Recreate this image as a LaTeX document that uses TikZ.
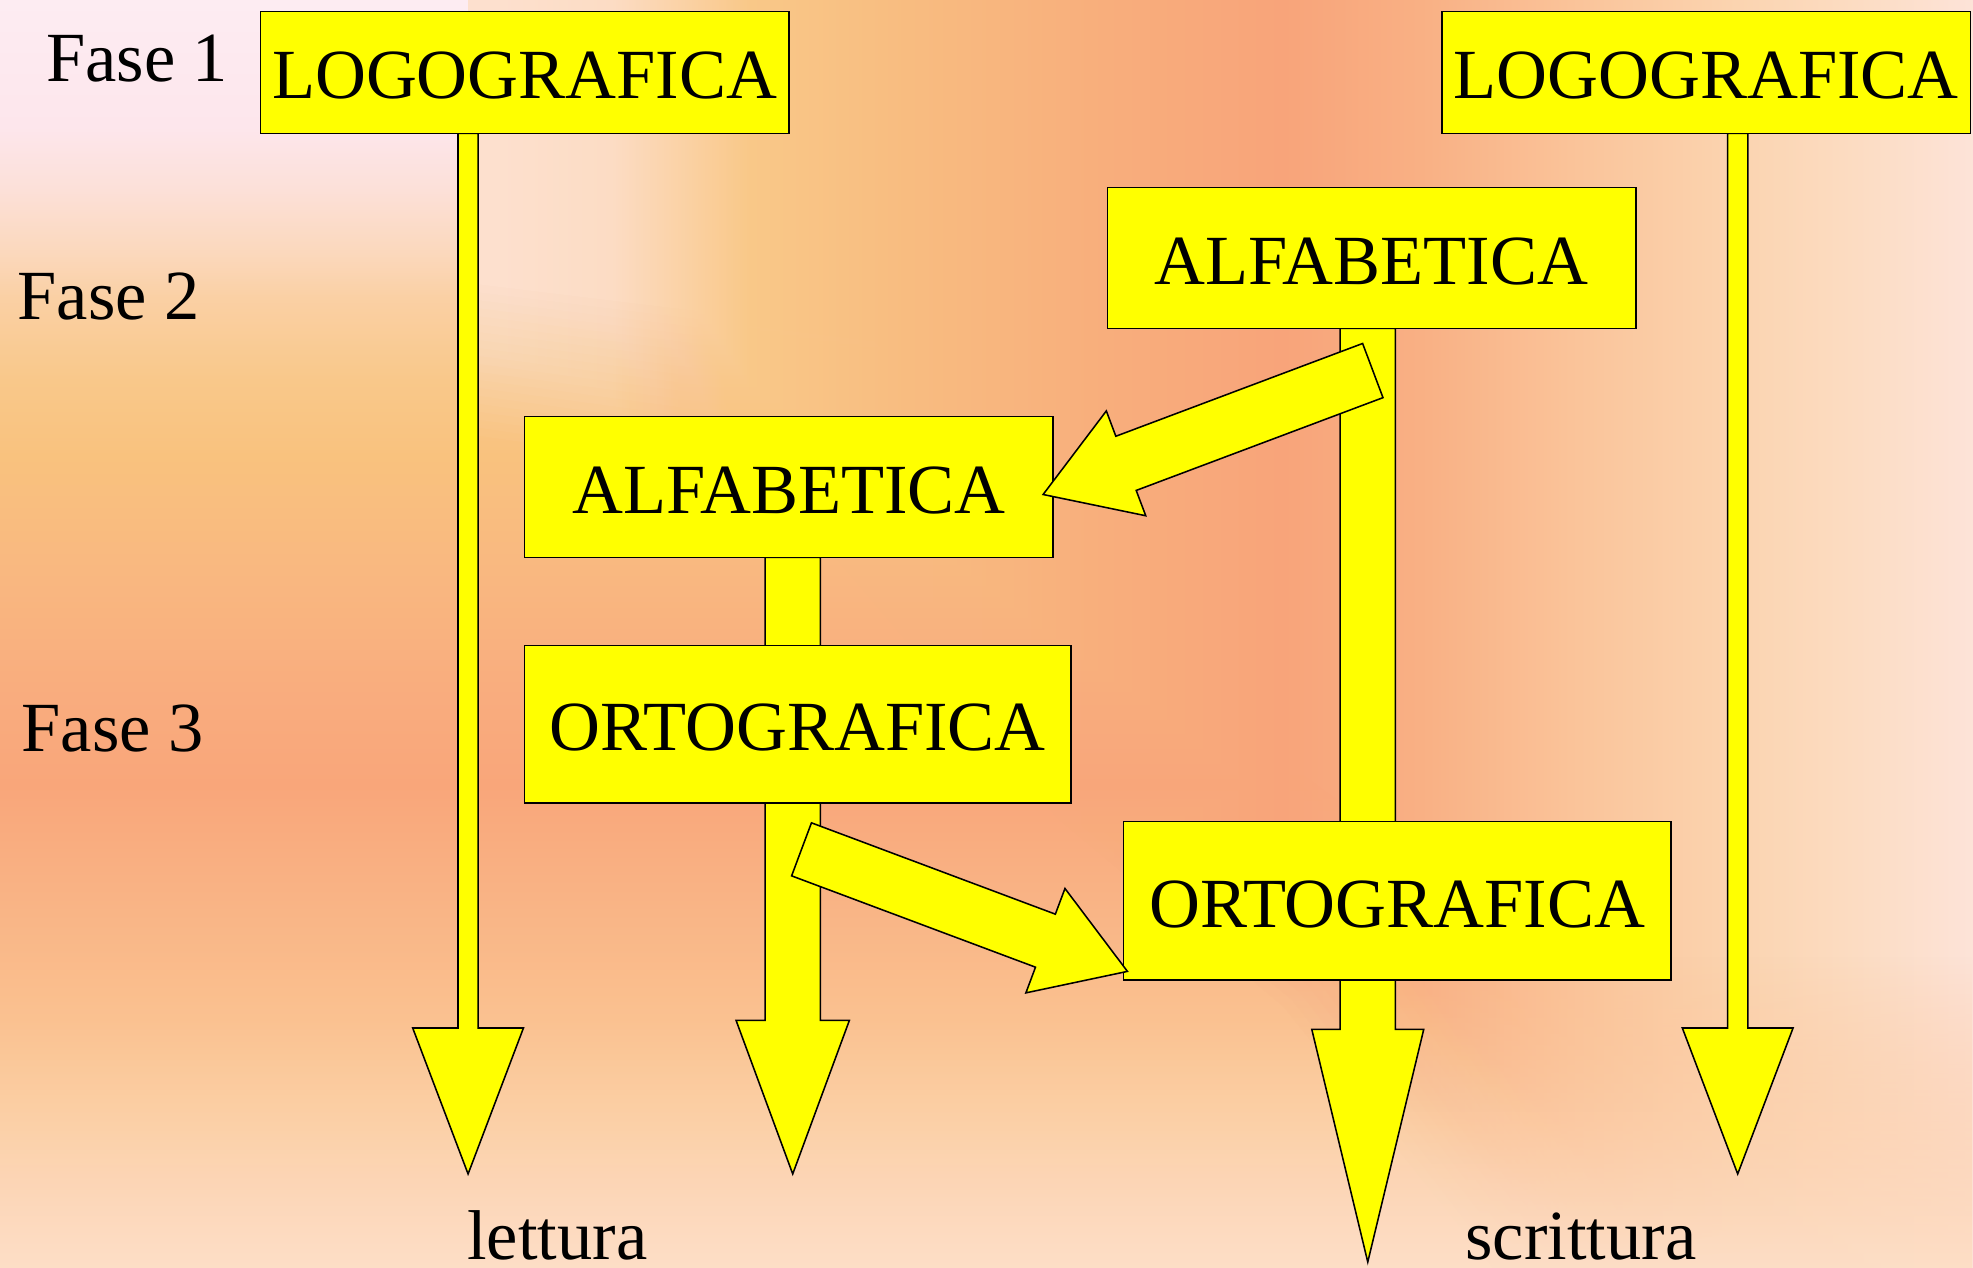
\documentclass[tikz,border=0pt]{standalone}
\usepackage{fontspec}
\setmainfont{Liberation Serif}
\usetikzlibrary{calc,fadings}
\pgfdeclarelayer{bg}
\pgfdeclarelayer{arr}
\pgfsetlayers{bg,arr,main}

\definecolor{yel}{HTML}{FFFF00}
% horizontal gradient (top / right part)
\definecolor{hA}{HTML}{FCDCC4}
\definecolor{hB}{HTML}{FDE0CE}
\definecolor{hC}{HTML}{FCDCC4}
\definecolor{hD}{HTML}{F9C888}
\definecolor{hE}{HTML}{F8BC80}
\definecolor{hF}{HTML}{F8AE7C}
\definecolor{hG}{HTML}{F8A47A}
\definecolor{hH}{HTML}{F9B084}
\definecolor{hI}{HTML}{FAC49A}
\definecolor{hJ}{HTML}{FBD4B0}
\definecolor{hK}{HTML}{FCDCC2}
\definecolor{hL}{HTML}{FDE3D8}
% vertical gradient (left / lower part), bottom to top
\definecolor{vA}{HTML}{FDDEC6}
\definecolor{vB}{HTML}{FDDCC2}
\definecolor{vC}{HTML}{FBD3A4}
\definecolor{vD}{HTML}{FAC290}
\definecolor{vE}{HTML}{F9B284}
\definecolor{vF}{HTML}{F9A67A}
\definecolor{vG}{HTML}{F9AC7E}
\definecolor{vH}{HTML}{F9B880}
\definecolor{vI}{HTML}{F9C27E}
\definecolor{vJ}{HTML}{F9C88A}
\definecolor{vK}{HTML}{FAD0A4}
\definecolor{vL}{HTML}{FBD8BC}
\definecolor{vM}{HTML}{FCE0D8}
\definecolor{vN}{HTML}{FDE6EC}
\definecolor{vO}{HTML}{FDECF2}
% bottom band
\definecolor{bT}{HTML}{FABD8C}
\definecolor{bM}{HTML}{FBD0A6}
\definecolor{bB}{HTML}{FDDEC6}

\pgfdeclarehorizontalshading{bgH}{100bp}{color(0bp)=(hA); color(25bp)=(hA);
  color(37.5bp)=(hB); color(40.5bp)=(hC); color(44bp)=(hD); color(48bp)=(hE);
  color(53bp)=(hF); color(57.5bp)=(hG); color(61bp)=(hH); color(65bp)=(hI);
  color(69bp)=(hJ); color(72bp)=(hK); color(75bp)=(hL); color(100bp)=(hL)}
% f = y/1007 from top  ->  75 - 50 f
\pgfdeclareverticalshading{bgV}{100bp}{color(0bp)=(vA); color(25bp)=(vA);
  color(26.5bp)=(vB); color(30.5bp)=(vC); color(34.5bp)=(vD); color(40bp)=(vE);
  color(44bp)=(vF); color(47.5bp)=(vG); color(52.5bp)=(vH); color(57bp)=(vI);
  color(60bp)=(vJ); color(63.25bp)=(vK); color(65bp)=(vL); color(67.5bp)=(vM);
  color(70bp)=(vN); color(75bp)=(vO); color(100bp)=(vO)}
\tikzfading[name=upfade, top color=transparent!100, middle color=transparent!30,
  bottom color=transparent!0]

\tikzset{
  txt/.style={font=\fontsize{15.94pt}{19pt}\selectfont, text=black},
  box/.style={txt, rectangle, draw=black, fill=yel, line width=0.35pt,
    inner sep=0pt, outer sep=0pt, text height=4.15mm, text depth=0pt},
  blk/.style={draw=black, fill=yel, line width=0.35pt, line join=miter},
  lbl/.style={txt, anchor=base, inner sep=0pt}
}

% block arrow: tail, tip, shaft half width, head half width, head length
\newcommand{\barrow}[5]{%
  \coordinate (bxB) at ($(#2)!#5!(#1)$);
  \draw[blk] ($(#1)!#3!90:(#2)$) -- ($(bxB)!#3!90:(#2)$) -- ($(bxB)!#4!90:(#2)$)
    -- (#2) -- ($(bxB)!#4!-90:(#2)$) -- ($(bxB)!#3!-90:(#2)$)
    -- ($(#1)!#3!-90:(#2)$) -- cycle;}

% horizontal-gradient patch: region between boundary (interpolated inner->outer by #1) and top/right
\newcommand{\hpatch}[2]{%
  \begin{scope}
    \clip ($(I1)!#1!(O1)$) -- ($(I2)!#1!(O2)$) -- ($(I3)!#1!(O3)$)
      -- ($(I4)!#1!(O4)$) -- ($(I5)!#1!(O5)$)
      -- (1573,1012) -- (1573,-5) -- (372,-5) -- cycle;
    \shade[shading=bgH, opacity=#2] (0,0) rectangle (1568,1007);
  \end{scope}}

\begin{document}
\begin{tikzpicture}[x=0.1mm, y=-0.1mm]
\useasboundingbox (0,0) rectangle (1568,1007);

% background
\coordinate (I1) at (372,225);  \coordinate (O1) at (372,345);
\coordinate (I2) at (700,265);  \coordinate (O2) at (610,380);
\coordinate (I3) at (960,560);  \coordinate (O3) at (840,650);
\coordinate (I4) at (1150,700); \coordinate (O4) at (1020,800);
\coordinate (I5) at (1330,1012); \coordinate (O5) at (1190,1012);
\begin{pgfonlayer}{bg}
  \shade[shading=bgV] (0,0) rectangle (1568,1007);
  \foreach \k in {1,...,20} {
    \pgfmathsetmacro\myt{(20-\k)/19}
    \pgfmathsetmacro\mya{1/(21-\k)}
    \hpatch{\myt}{\mya}
  }
  \shade[top color=bT, middle color=bM, bottom color=bB, path fading=upfade,
    fit fading=true] (0,760) rectangle (1568,1007);
\end{pgfonlayer}

% boxes
\node[box, minimum width=42mm, minimum height=9.7mm] (logoL) at (417,57.5) {LOGOGRAFICA};
\node[box, minimum width=42mm, minimum height=9.7mm] (logoR) at (1356,57.5) {LOGOGRAFICA};
\node[box, minimum width=42mm, minimum height=11.2mm] (alfaR) at (1090,205) {ALFABETICA};
\node[box, minimum width=42mm, minimum height=11.2mm] (alfaL) at (627,387) {ALFABETICA};
\node[box, minimum width=43.4mm, minimum height=12.5mm] (ortoL) at (634,575.5) {ORTOGRAFICA};
\node[box, minimum width=43.5mm, minimum height=12.6mm] (ortoR) at (1110.5,716) {ORTOGRAFICA};

% vertical arrows
\coordinate (t1) at (372,933);
\coordinate (t2) at (630,933);
\coordinate (t3) at (1087,1003);
\coordinate (t4) at (1381,933);
\coordinate (s1) at (logoL.south -| t1);
\coordinate (s2) at (alfaL.south -| t2);
\coordinate (s3) at (alfaR.south -| t3);
\coordinate (s4) at (logoR.south -| t4);
\begin{pgfonlayer}{arr}
  \barrow{s1}{t1}{0.8mm}{4.4mm}{11.6mm}
  \barrow{s2}{t2}{2.2mm}{4.5mm}{12.2mm}
  \barrow{s3}{t3}{2.2mm}{4.45mm}{18.5mm}
  \barrow{s4}{t4}{0.8mm}{4.4mm}{11.6mm}
\end{pgfonlayer}

% diagonal arrows
\coordinate (tA) at ($(alfaR.south)+(1,33.5)$);
\coordinate (pA) at ($(alfaL.east)+(-8,6)$);
\barrow{tA}{pA}{2.3mm}{4.45mm}{7.04mm}
\coordinate (tB) at ($(ortoL.south)+(3,37)$);
\coordinate (pB) at ($(ortoR.south west)+(3,-7)$);
\barrow{tB}{pB}{2.25mm}{4.43mm}{6.96mm}

% labels
\node[lbl] (f1) at (109,65) {Fase 1};
\node[lbl] (f2) at (86.5,254) {Fase 2};
\node[lbl] (f3) at (89.5,597.5) {Fase 3};
\node[lbl] (lett) at (443,1001) {lettura};
\node[lbl] (scri) at (1256.5,1001) {scrittura};
\end{tikzpicture}
\end{document}
